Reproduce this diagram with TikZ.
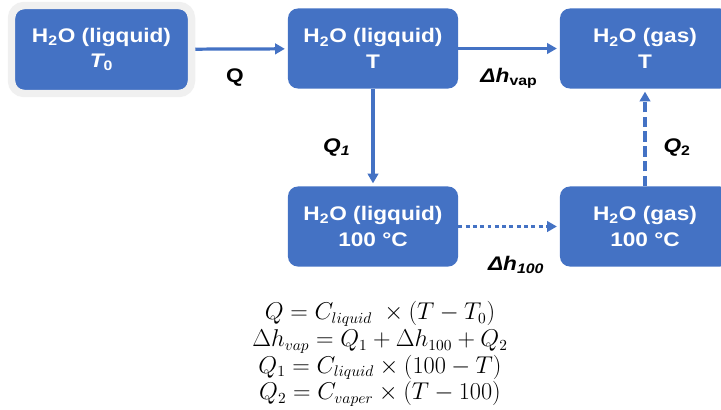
\documentclass[tikz,border=0pt]{standalone}
\usepackage[no-math]{fontspec}
\setmainfont{Liberation Sans}[FakeStretch=1.15]
\usepackage{tikz}
\usetikzlibrary{positioning, arrows.meta, calc}
\definecolor{boxblue}{HTML}{4472C4}
\definecolor{halogray}{HTML}{F0F0F0}

\begin{document}
\begin{tikzpicture}[x=0.025cm, y=-0.025cm,
    state/.style={fill=boxblue, text=white, rounded corners=7pt, inner sep=0pt,
                  minimum width=4.25cm, minimum height=2cm, align=center,
                  font=\bfseries\fontsize{14}{18}\selectfont},
    flow/.style={draw=boxblue, line width=2.3pt, -{Triangle[length=7pt, width=7.5pt]}, shorten >=2pt},
    lbl/.style={font=\bfseries\fontsize{14}{16}\selectfont, inner sep=0pt}]
    \clip (0,0) rectangle (721,409);

    \node[state, draw=halogray, line width=5.3pt, rounded corners=9pt, minimum width=4.5cm, minimum height=2.2cm]
      (liq0) at (101.5,49.5) {H\textsubscript{2}O (ligquid)\\{\itshape T}\textsubscript{0}};
    \node[state] (liqT) at (373,48.5) {H\textsubscript{2}O (ligquid)\\T};
    \node[state] (gasT) at (645,48.5) {H\textsubscript{2}O (gas)\\T};
    \node[state] (liq100) at (373,226.5) {H\textsubscript{2}O (ligquid)\\100 °C};
    \node[state] (gas100) at (645,226.5) {H\textsubscript{2}O (gas)\\100 °C};

    \draw[flow] (liq0) -- node[lbl, below=13pt, pos=0.43] (qlab) {Q} (liqT);
    \draw[flow] (liqT) -- node[lbl, below=13pt] (vaplab) {\itshape Δh\textsubscript{\upshape vap}} (gasT);
    \draw[flow] (liqT) -- node[lbl, left=15pt, pos=0.6] (q1lab) {\itshape Q\textsubscript{1}} (liq100);
    \draw[flow, dash pattern=on 2.8pt off 2.4pt] (liq100) -- node[lbl, below=20pt, pos=0.57] (h100lab) {\itshape Δh\textsubscript{100}} (gas100);
    \draw[flow, dash pattern=on 7.5pt off 3pt] (gas100) -- node[lbl, right=12pt, pos=0.4] (q2lab) {\itshape Q\textsubscript{\upshape 2}} (gasT);

    \node[font=\fontsize{16}{19}\selectfont, align=center] (eqs) at (380,354) {%
      $Q = C_{liquid}\;\times (T - T_0)$\\
      $\Delta h_{vap} = Q_1 + \Delta h_{100} + Q_2$\\
      $Q_1 = C_{liquid} \times (100 - T)$\\
      $Q_2 = C_{vaper} \times (T - 100)$};
\end{tikzpicture}
\end{document}
